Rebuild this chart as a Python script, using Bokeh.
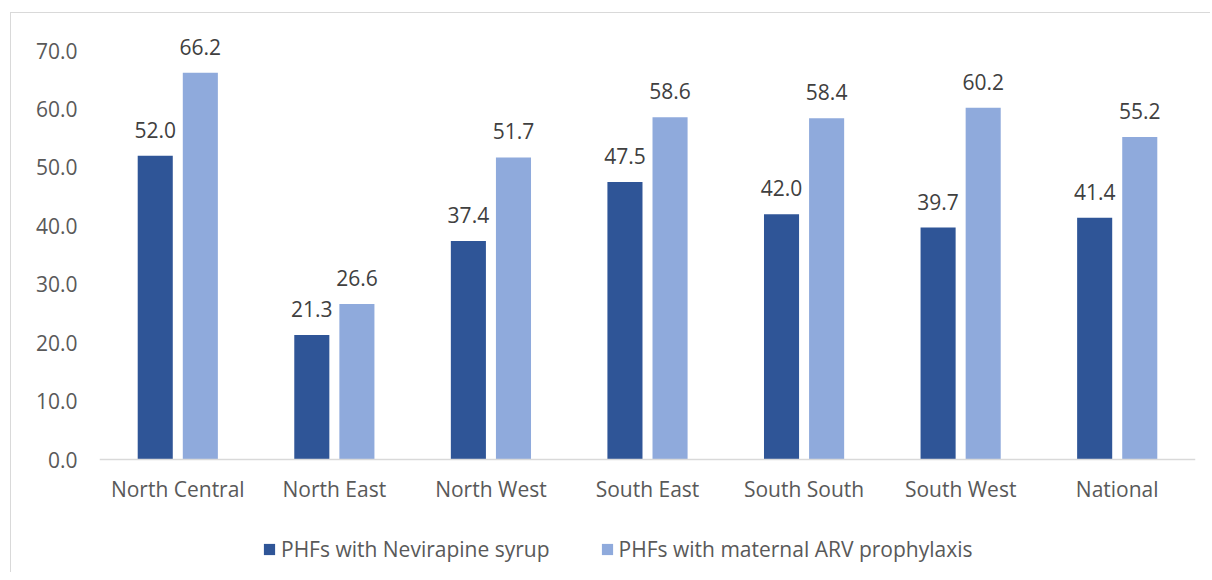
from bokeh.plotting import figure
from bokeh.models import ColumnDataSource, FactorRange, FixedTicker, PrintfTickFormatter, Legend, LegendItem, Range1d
from bokeh.transform import dodge
from bokeh.core.properties import value
from bokeh.embed import file_html
from bokeh.resources import INLINE

zones = ["North Central", "North East", "North West", "South East", "South South", "South West", "National"]
nevirapine = [52.0, 21.3, 37.4, 47.5, 42.0, 39.7, 41.4]
maternal_arv = [66.2, 26.6, 51.7, 58.6, 58.4, 60.2, 55.2]
y_ticks = [0, 10, 20, 30, 40, 50, 60, 70]
series_names = ["PHFs with Nevirapine syrup", "PHFs with maternal ARV prophylaxis"]

DARK = "#2F5597"
LIGHT = "#8FAADC"
TXT = "#595959"
FONT = "Open Sans"
FS = "21px"

src = ColumnDataSource(dict(
    zone=zones,
    nev=nevirapine,
    arv=maternal_arv,
    nev_lbl=["%.1f" % v for v in nevirapine],
    arv_lbl=["%.1f" % v for v in maternal_arv],
))

p = figure(x_range=FactorRange(*zones, range_padding=0), y_range=Range1d(-19.51, 76),
           width=1200, height=560, output_backend="svg", toolbar_location=None,
           min_border_left=88, min_border_right=16, min_border_top=2, min_border_bottom=0)
p.margin = (12, 0, 0, 10)
p.styles = {"border-left": "1px solid #D9D9D9", "border-top": "1px solid #D9D9D9"}
p.outline_line_color = None
p.grid.grid_line_color = None

OFF = 0.144
W = 0.224
r1 = p.vbar(x=dodge("zone", -OFF, range=p.x_range), top="nev", width=W, source=src,
            fill_color=DARK, line_color=None)
r2 = p.vbar(x=dodge("zone", OFF, range=p.x_range), top="arv", width=W, source=src,
            fill_color=LIGHT, line_color=None)

p.text(x=dodge("zone", -OFF, range=p.x_range), y="nev", text="nev_lbl", source=src,
       text_align="center", text_baseline="alphabetic", y_offset=-26,
       text_font=value(FONT), text_font_size=FS, text_color="#404040")
p.text(x=dodge("zone", OFF, range=p.x_range), y="arv", text="arv_lbl", source=src,
       text_align="center", text_baseline="alphabetic", y_offset=-26,
       text_font=value(FONT), text_font_size=FS, text_color="#404040")

p.yaxis.ticker = FixedTicker(ticks=y_ticks)
p.yaxis.formatter = PrintfTickFormatter(format="%.1f")
p.yaxis.axis_line_color = None
p.yaxis.major_tick_line_color = None
p.yaxis.minor_tick_line_color = None
p.yaxis.major_tick_out = 0
p.yaxis.major_label_standoff = 22
p.yaxis.major_label_text_font = FONT
p.yaxis.major_label_text_font_size = FS
p.yaxis.major_label_text_color = TXT

p.xaxis.fixed_location = 0
p.xaxis.axis_line_color = "#D9D9D9"
p.xaxis.axis_line_width = 1.5
p.xaxis.major_tick_line_color = None
p.xaxis.major_tick_out = 0
p.xaxis.major_label_standoff = 15
p.xaxis.major_label_text_font = FONT
p.xaxis.major_label_text_font_size = FS
p.xaxis.major_label_text_color = TXT

legend = Legend(items=[LegendItem(label=series_names[0], renderers=[r1]),
                       LegendItem(label=series_names[1], renderers=[r2])],
                orientation="horizontal", location=(163, 10),
                glyph_width=14, glyph_height=14, label_standoff=5, spacing=50,
                padding=0, margin=0, border_line_color=None, background_fill_alpha=0,
                label_text_font=FONT, label_text_font_size=FS, label_text_color=TXT)
p.add_layout(legend, "center")

open("out.html", "w").write(file_html(p, INLINE))
